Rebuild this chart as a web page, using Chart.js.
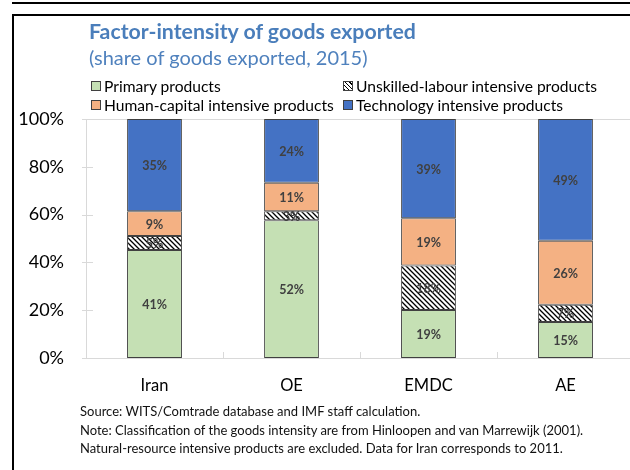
<!DOCTYPE html>
<html>
<head>
<meta charset="utf-8">
<script src="https://cdn.jsdelivr.net/npm/chart.js@4/dist/chart.umd.min.js"></script>
<style>
  html, body { margin: 0; padding: 0; background: #fff; width: 630px; height: 470px; overflow: hidden; }
  body { position: relative; font-family: Lato, "Open Sans", sans-serif; }
  #wrap { position: absolute; left: 0; top: 0; width: 640px; height: 470px; }
  .line { position: absolute; background: #000; }
  .txt { position: absolute; white-space: nowrap; line-height: 1; }
  #title { left: 89px; top: 21px; font-size: 21.3px; font-weight: bold; color: #4A7EBB; }
  #subtitle { left: 89px; top: 47px; font-size: 20px; color: #4F81BD; }
  .leg { position: absolute; font-size: 15.6px; color: #000; white-space: nowrap; line-height: 1; }
  .leg .sw { display: inline-block; width: 8px; height: 8px; border: 1px solid #404040; margin-right: 3px; vertical-align: 1px; }
  .foot { position: absolute; left: 80px; font-size: 13px; color: #111; white-space: nowrap; line-height: 1; }
</style>
</head>
<body>
<div id="wrap"><canvas id="c" width="640" height="470"></canvas></div>
<div class="line" style="left:12px; top:2px; width:618px; height:2px;"></div>
<div class="line" style="left:12px; top:14px; width:618px; height:2px;"></div>
<div class="line" style="left:12px; top:14px; width:2px; height:456px;"></div>
<div id="title" class="txt">Factor-intensity of goods exported</div>
<div id="subtitle" class="txt">(share of goods exported, 2015)</div>
<div id="legend"></div>
<div class="foot" style="top:405px;">Source: WITS/Comtrade database and IMF staff calculation.</div>
<div class="foot" style="top:424px;">Note: Classification of the goods intensity are from Hinloopen and van Marrewijk (2001).</div>
<div class="foot" style="top:442px;">Natural-resource intensive products are excluded. Data for Iran corresponds to 2011.</div>
<script>
// ---- data (shares of goods exported, %) ----
const categories = ['Iran', 'OE', 'EMDC', 'AE'];
const primaryProducts = [41.4, 52.4, 18.9, 14.6];
const unskilledLabour = [5.4, 3.4, 17.6, 7.0];
const humanCapital = [9.4, 10.9, 18.6, 25.9];
const technology = [35.4, 24.2, 39.2, 49.4];
const seriesNames = ['Primary products', 'Unskilled-labour intensive products', 'Human-capital intensive products', 'Technology intensive products'];
const yTicks = [0, 20, 40, 60, 80, 100];

// hatch pattern (wide downward diagonal)
function makeHatch() {
  const n = 5;
  const p = document.createElement('canvas');
  p.width = n; p.height = n;
  const g = p.getContext('2d');
  g.fillStyle = '#fff'; g.fillRect(0, 0, n, n);
  g.strokeStyle = '#000'; g.lineWidth = 1.3;
  g.beginPath();
  for (let o = -n; o <= n; o += n) { g.moveTo(o - 1, -1); g.lineTo(o + n + 1, n + 1); }
  g.stroke();
  return g.createPattern(p, 'repeat');
}
const hatch = makeHatch();

const raw = [primaryProducts, unskilledLabour, humanCapital, technology];
const totals = categories.map((_, i) => raw.reduce((s, arr) => s + arr[i], 0));
const fills = ['#C5E0B4', hatch, '#F4B183', '#4472C4'];

const datasets = raw.map((arr, k) => ({
  label: seriesNames[k],
  data: arr.map((v, i) => v / totals[i] * 100),
  rawValues: arr,
  backgroundColor: fills[k],
  borderColor: '#404040',
  borderWidth: 1,
  borderSkipped: false,
  barPercentage: 0.4,
  categoryPercentage: 1.0
}));

// HTML legend built from series names
const legPos = [[91, 79], [343, 79], [91, 98], [343, 98]];
const swStyles = ['background:#C5E0B4', 'background:repeating-linear-gradient(45deg,#000 0 1px,#fff 1px 3px)', 'background:#F4B183', 'background:#4472C4'];
const legEl = document.getElementById('legend');
seriesNames.forEach((name, k) => {
  const d = document.createElement('div');
  d.className = 'leg';
  d.style.left = legPos[k][0] + 'px';
  d.style.top = legPos[k][1] + 'px';
  d.innerHTML = '<span class="sw" style="' + swStyles[k] + '"></span>' + name;
  legEl.appendChild(d);
});

const decor = {
  id: 'decor',
  beforeDatasetsDraw(chart) {
    const { ctx, chartArea: a, scales: { x, y } } = chart;
    ctx.save();
    ctx.strokeStyle = '#D9D9D9';
    ctx.lineWidth = 1;
    ctx.beginPath();
    ctx.moveTo(a.left + 0.5, a.top + 0.5); ctx.lineTo(a.right, a.top + 0.5);
    ctx.moveTo(a.left + 0.5, a.top); ctx.lineTo(a.left + 0.5, a.bottom + 0.5);
    ctx.moveTo(a.left, a.bottom + 0.5); ctx.lineTo(a.right, a.bottom + 0.5);
    yTicks.forEach(v => {
      const py = Math.round(y.getPixelForValue(v)) + 0.5;
      ctx.moveTo(a.left - 4, py); ctx.lineTo(a.left + 7, py);
    });
    for (let i = 0; i < categories.length - 1; i++) {
      const px = Math.round((x.getPixelForValue(i) + x.getPixelForValue(i + 1)) / 2) + 0.5;
      ctx.moveTo(px, a.bottom); ctx.lineTo(px, a.bottom - 6);
    }
    ctx.stroke();
    ctx.restore();
  },
  afterDatasetsDraw(chart) {
    const { ctx } = chart;
    ctx.save();
    ctx.font = 'bold 12.5px Lato, "Open Sans", sans-serif';
    ctx.fillStyle = '#404040';
    ctx.textAlign = 'center';
    ctx.textBaseline = 'middle';
    chart.data.datasets.forEach((ds, k) => {
      chart.getDatasetMeta(k).data.forEach((el, i) => {
        const p = el.getProps(['x', 'y', 'base'], true);
        ctx.fillText(Math.round(ds.rawValues[i]) + '%', p.x, (p.y + p.base) / 2 + 1);
      });
    });
    ctx.restore();
  }
};

new Chart(document.getElementById('c'), {
  type: 'bar',
  data: { labels: categories, datasets },
  options: {
    responsive: false,
    animation: false,
    events: [],
    layout: { padding: { top: 119, right: 6, bottom: 0, left: 0 } },
    plugins: { legend: { display: false }, tooltip: { enabled: false } },
    scales: {
      x: {
        stacked: true,
        grid: { display: false, drawTicks: false },
        border: { display: false },
        ticks: { color: '#000', font: { family: 'Lato', size: 16.5 }, padding: 18 },
        afterFit(s) { s.height = 112; }
      },
      y: {
        stacked: true,
        min: 0, max: 100,
        afterBuildTicks(s) { s.ticks = yTicks.map(v => ({ value: v })); },
        grid: { display: false, drawTicks: false },
        border: { display: false },
        ticks: { color: '#000', font: { family: 'Lato', size: 18 }, padding: 22, callback: v => v + '%' },
        afterFit(s) { s.width = 86; }
      }
    }
  },
  plugins: [decor]
});
</script>
</body>
</html>
